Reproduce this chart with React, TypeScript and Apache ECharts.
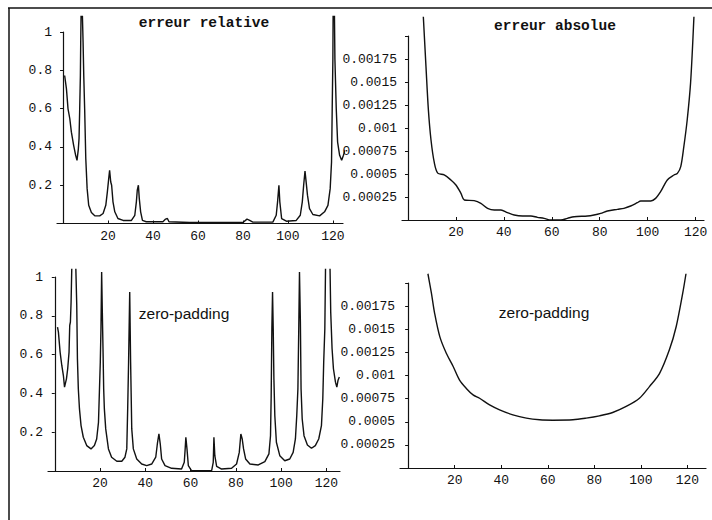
import React, { useEffect, useRef } from "react";
import * as echarts from "echarts";

// x tick labels shared by the four panels
const xTickValues = [20, 40, 60, 80, 100, 120];

// Panel titles
const titleRelative = "erreur relative";
const titleAbsolute = "erreur absolue";
const titleZeroPad = "zero-padding";

// Top-left: relative error (x, value); null = the peak leaves the picture
const relErrorPoints: (number | null)[][] = [
  [0.7, 0.773], [1.5, 0.703], [2.2, 0.599], [3.0, 0.547], [3.7, 0.477], [4.7, 0.408],
  [5.6, 0.356], [6.2, 0.33], [6.8, 0.39], [7.1, 0.443], [7.4, 0.599], [7.7, 0.773],
  [7.85, 0.946], [8.0, 1.085], [8.3, null], [8.6, 1.085], [8.9, 0.946], [9.2, 0.773], [9.6, 0.599],
  [10.1, 0.339], [10.7, 0.182], [11.4, 0.095], [12.6, 0.057], [14.1, 0.04], [16.3, 0.04],
  [17.8, 0.052], [19.0, 0.095], [19.7, 0.165], [20.3, 0.234], [20.7, 0.278], [21.2, 0.217],
  [21.6, 0.2], [22.2, 0.113], [23.0, 0.061], [24.4, 0.026], [26.7, 0.016], [30.4, 0.016],
  [31.9, 0.043], [32.6, 0.113], [33.0, 0.174], [33.5, 0.2], [33.9, 0.13], [34.5, 0.061],
  [35.3, 0.016], [37.0, 0.009], [44.4, 0.009], [45.6, 0.023], [46.4, 0.026], [47.1, 0.009],
  [56.3, 0.005], [80.0, 0.005], [81.8, 0.023], [83.0, 0.016], [84.4, 0.007], [93.3, 0.007],
  [94.8, 0.043], [95.4, 0.113], [96.0, 0.2], [96.4, 0.113], [97.2, 0.026], [99.3, 0.012],
  [103.7, 0.016], [105.5, 0.043], [106.4, 0.113], [107.0, 0.2], [107.6, 0.274], [108.1, 0.217],
  [108.7, 0.148], [109.6, 0.078], [111.1, 0.047], [114.1, 0.04], [116.3, 0.061], [117.8, 0.095],
  [118.8, 0.182], [119.4, 0.321], [119.7, 0.599], [120.0, 0.859], [120.1, 1.085], [120.4, null],
  [120.7, 1.085], [120.9, 0.859], [121.5, 0.599], [122.1, 0.425], [123.0, 0.356], [123.9, 0.33],
  [124.7, 0.356], [125.5, 0.385],
];

// Top-right: absolute error (x, value)
const absErrorPoints: number[][] = [
  [6.4, 0.00221], [7.5, 0.00167], [8.5, 0.0012], [9.6, 0.00087], [11.0, 0.00062],
  [12.4, 0.00051], [15.1, 0.00049], [17.9, 0.000435], [20.0, 0.00038], [22.1, 0.00029],
  [23.5, 0.000217], [27.6, 0.00021], [30.4, 0.000181], [33.2, 0.000127], [36.0, 0.000109],
  [38.8, 0.000109], [41.5, 0.00008], [44.3, 0.000054], [47.8, 0.000043], [51.3, 0.000043],
  [54.0, 0.000029], [56.8, 0.000018], [59.6, 0.0], [63.8, 0.0], [66.5, 0.000018],
  [69.3, 0.000036], [74.9, 0.000043], [77.6, 0.000054], [80.4, 0.000072], [83.2, 0.000098],
  [87.4, 0.000116], [90.1, 0.000127], [92.9, 0.000152], [95.7, 0.000188], [97.1, 0.000207],
  [101.3, 0.000207], [103.3, 0.000235], [105.4, 0.000308], [108.2, 0.000435], [111.0, 0.000489],
  [112.4, 0.000507], [113.8, 0.00058], [115.1, 0.0008], [116.5, 0.00109], [117.9, 0.00149],
  [119.3, 0.00221],
];

// Bottom-left: relative error with zero-padding (x, value); null = clipped peak
const zpRelPoints: (number | null)[][] = [
  [1.2, 0.742], [1.6, 0.716], [2.35, 0.613], [3.1, 0.544], [3.8, 0.492], [4.3, 0.432],
  [5.15, 0.475], [5.7, 0.527], [6.3, 0.613], [6.6, 0.75], [6.9, 0.768], [7.2, 0.871],
  [7.5, 1.043], [8.4, null], [9.3, 1.043], [9.7, 0.854], [10.0, 0.578], [10.4, 0.423], [10.9, 0.32],
  [11.6, 0.234], [12.6, 0.174], [14.1, 0.131], [16.0, 0.114], [17.5, 0.131], [18.5, 0.165],
  [19.3, 0.251], [19.7, 0.406], [20.1, 0.561], [20.4, 0.733], [20.7, 1.026], [21.0, 0.819],
  [21.3, 0.63], [21.6, 0.423], [21.9, 0.32], [22.5, 0.217], [23.7, 0.114], [25.1, 0.071],
  [27.4, 0.05], [29.6, 0.05], [31.0, 0.071], [31.8, 0.114], [32.2, 0.32], [32.6, 0.561],
  [33.1, 0.923], [33.5, 0.561], [34.0, 0.217], [34.7, 0.114], [36.2, 0.062], [38.4, 0.036],
  [40.6, 0.028], [42.8, 0.036], [44.6, 0.071], [45.4, 0.148], [46.0, 0.191], [46.6, 0.139],
  [47.2, 0.062], [48.7, 0.028], [51.6, 0.014], [56.0, 0.01], [57.2, 0.045], [57.6, 0.114],
  [57.9, 0.174], [58.4, 0.114], [59.0, 0.028], [60.4, 0.002], [69.3, 0.002], [70.0, 0.045],
  [70.3, 0.174], [70.7, 0.079], [71.5, 0.024], [73.7, 0.01], [78.1, 0.014], [80.3, 0.036],
  [81.5, 0.096], [82.2, 0.191], [82.8, 0.165], [83.4, 0.114], [84.3, 0.062], [86.2, 0.036],
  [89.9, 0.031], [92.8, 0.048], [94.6, 0.088], [95.3, 0.182], [95.6, 0.389], [95.9, 0.733],
  [96.2, 0.923], [96.5, 0.733], [96.8, 0.475], [97.2, 0.286], [97.9, 0.148], [99.4, 0.079],
  [101.6, 0.053], [103.8, 0.062], [105.3, 0.096], [106.3, 0.165], [106.9, 0.286], [107.4, 0.423],
  [107.8, 0.75], [108.1, 1.026], [108.5, 0.768], [108.8, 0.423], [109.3, 0.268], [110.1, 0.182],
  [111.6, 0.134], [113.4, 0.117], [115.1, 0.131], [116.6, 0.165], [117.8, 0.234], [118.4, 0.372],
  [118.8, 0.561], [119.3, 0.733], [119.6, 1.043], [120.6, null], [121.6, 1.043], [121.9, 0.819],
  [122.5, 0.63], [123.1, 0.527], [124.0, 0.458], [124.6, 0.432], [125.1, 0.466], [125.7, 0.484],
];

// Bottom-right: absolute error with zero-padding (x, value)
const zpAbsPoints: number[][] = [
  [8.5, 0.0021], [10.0, 0.00189], [11.4, 0.00167], [13.6, 0.00142], [16.4, 0.00124],
  [19.3, 0.0011], [22.1, 0.00095], [25.0, 0.00086], [27.9, 0.00079], [30.7, 0.000754],
  [35.0, 0.000682], [39.3, 0.000629], [45.0, 0.000575], [50.8, 0.000539], [56.5, 0.000521],
  [62.2, 0.000517], [70.8, 0.000521], [76.5, 0.000539], [82.2, 0.000564], [87.9, 0.0006],
  [93.7, 0.000665], [99.4, 0.000754], [103.7, 0.00088], [108.0, 0.00102], [112.3, 0.00128],
  [115.2, 0.00153], [118.0, 0.00189], [119.4, 0.0021],
];

const monoFont = "'Liberation Mono', 'DejaVu Sans Mono', monospace";
const sansFont = "'Liberation Sans', Arial, sans-serif";
const ink = "#111";

function fmtSmall(v: number): string {
  if (v <= 0 || v >= 0.002 - 1e-9) return "";
  return String(parseFloat(v.toPrecision(6)));
}
function fmtRel(v: number): string {
  if (v <= 0) return "";
  return String(parseFloat(v.toPrecision(6)));
}

function xAxisFor(gridIndex: number, min: number, max: number) {
  return {
    type: "value",
    gridIndex,
    min,
    max,
    splitLine: { show: false },
    axisLine: { show: true, onZero: true, lineStyle: { color: ink, width: 1.2 } },
    axisTick: { show: true, inside: true, length: 3, customValues: xTickValues, lineStyle: { color: ink } },
    axisLabel: {
      show: true,
      customValues: xTickValues,
      color: ink,
      fontFamily: monoFont,
      fontSize: 13,
      margin: 6,
    },
  };
}

function yAxisFor(gridIndex: number, max: number, interval: number, fmt: (v: number) => string) {
  return {
    type: "value",
    gridIndex,
    min: 0,
    max,
    interval,
    splitLine: { show: false },
    axisLine: { show: true, onZero: true, lineStyle: { color: ink, width: 1.2 } },
    axisTick: { show: true, length: 3, lineStyle: { color: ink } },
    axisLabel: {
      show: true,
      color: ink,
      fontFamily: monoFont,
      fontSize: 13,
      margin: 5,
      formatter: fmt,
      showMinLabel: true,
      showMaxLabel: true,
    },
  };
}

function lineSeries(idx: number, data: (number | null)[][], smooth: boolean) {
  return {
    type: "line",
    xAxisIndex: idx,
    yAxisIndex: idx,
    data: data.map((p) => (p[1] === null ? [p[0], "-"] : p)),
    showSymbol: false,
    symbol: "none",
    smooth: smooth ? 0.3 : false,
    connectNulls: false,
    clip: false,
    lineStyle: { color: ink, width: 1.4 },
  };
}

export default function App() {
  const ref = useRef<HTMLDivElement>(null);

  useEffect(() => {
    if (!ref.current) return;
    const chart = echarts.init(ref.current, undefined, { renderer: "svg" });
    chart.setOption({
      animation: false,
      backgroundColor: "#fff",
      grid: [
        { left: 57, top: 32, width: 286, height: 191.5 },
        { left: 402, top: 36, width: 302, height: 184 },
        { left: 48, top: 277, width: 292, height: 194 },
        { left: 400, top: 283, width: 306, height: 185 },
      ],
      xAxis: [
        xAxisFor(0, -2.7, 124.5),
        xAxisFor(1, -2.5, 123.5),
        xAxisFor(2, -3, 126),
        xAxisFor(3, -3.5, 128),
      ],
      yAxis: [
        yAxisFor(0, 1, 0.2, fmtRel),
        yAxisFor(1, 0.002, 0.00025, fmtSmall),
        yAxisFor(2, 1, 0.2, fmtRel),
        yAxisFor(3, 0.002, 0.00025, fmtSmall),
      ],
      series: [
        lineSeries(0, relErrorPoints, false),
        lineSeries(1, absErrorPoints, true),
        lineSeries(2, zpRelPoints, false),
        lineSeries(3, zpAbsPoints, true),
      ],
      graphic: [
        { type: "line", shape: { x1: 8, y1: 8, x2: 712, y2: 8 }, style: { stroke: ink, lineWidth: 1.5 } },
        { type: "line", shape: { x1: 9, y1: 8, x2: 9, y2: 520 }, style: { stroke: ink, lineWidth: 1.5 } },
        {
          type: "text", x: 204, y: 23,
          style: { text: titleRelative, font: `bold 14.5px ${monoFont}`, fill: ink, textAlign: "center", textVerticalAlign: "middle" },
        },
        {
          type: "text", x: 555, y: 26,
          style: { text: titleAbsolute, font: `bold 14.5px ${monoFont}`, fill: ink, textAlign: "center", textVerticalAlign: "middle" },
        },
        {
          type: "text", x: 184, y: 313,
          style: { text: titleZeroPad, font: `15.5px ${sansFont}`, fill: ink, textAlign: "center", textVerticalAlign: "middle" },
        },
        {
          type: "text", x: 544, y: 312,
          style: { text: titleZeroPad, font: `15.5px ${sansFont}`, fill: ink, textAlign: "center", textVerticalAlign: "middle" },
        },
      ],
    });
    return () => chart.dispose();
  }, []);

  return (
    <div
      ref={ref}
      style={{ position: "fixed", left: 0, top: 0, width: 712, height: 520, background: "#fff" }}
    />
  );
}
